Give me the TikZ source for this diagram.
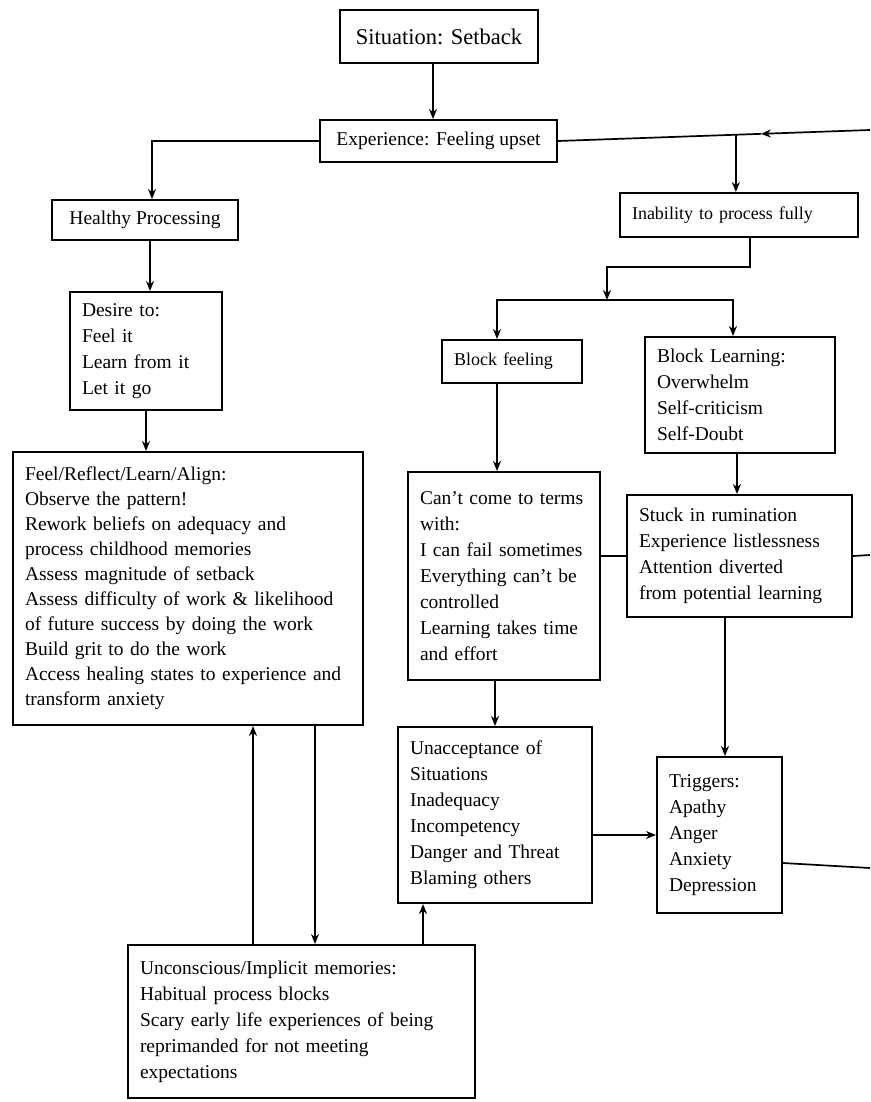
\documentclass[tikz,border=0pt]{standalone}
\usepackage{fontspec}
\setmainfont{Liberation Serif}
\usetikzlibrary{arrows.meta, calc}

\tikzset{
  box/.style={draw=black, line width=2pt, align=left, inner xsep=12pt, inner ysep=5pt,
    font=\fontsize{19.5}{26}\selectfont},
  arr/.style={line width=1.7pt, -{Stealth[length=10pt, width=8pt]}},
  con/.style={line width=1.7pt}
}

\begin{document}
\begin{tikzpicture}[x=1pt, y=-1pt]
\useasboundingbox (0,0) rectangle (870,1102);

\node (sit) [box, align=center, minimum width=198pt, minimum height=53pt, font=\fontsize{22.5}{27}\selectfont] at (439,36.5) {Situation: Setback};
\node (exp) [box, align=center, minimum width=237pt, minimum height=42pt] at (438.5,141) {Experience: Feeling upset};
\node (healthy) [box, align=center, minimum width=186pt, minimum height=40pt] at (145,220) {Healthy Processing};
\node (inab) [box, text width=214pt, minimum height=44pt, font=\fontsize{18}{24}\selectfont] at (739,215) {Inability to process fully};
\node (desire) [box, text width=128pt, minimum height=118pt] at (146,351) {Desire to:\\Feel it\\Learn from it\\Let it go};
\node (blockf) [box, text width=116pt, minimum height=43pt, font=\fontsize{18}{24}\selectfont] at (512,361.5) {Block feeling};
\node (blockl) [box, text width=166pt, minimum height=116pt] at (740,395) {Block Learning:\\Overwhelm\\Self-criticism\\Self-Doubt};
\node (feel) [box, text width=326pt, minimum height=273pt, font=\fontsize{19.5}{25}\selectfont] at (188,588.5) {Feel/Reflect/Learn/Align:\\Observe the pattern!\\Rework beliefs on adequacy and\\process childhood memories\\Assess magnitude of setback\\Assess difficulty of work \& likelihood\\of future success by doing the work\\Build grit to do the work\\Access healing states to experience and\\transform anxiety};
\node (cant) [box, text width=168pt, minimum height=208pt] at (504,576) {Can't come to terms\\with:\\I can fail sometimes\\Everything can't be\\controlled\\Learning takes time\\and effort};
\node (stuck) [box, text width=201pt, minimum height=122pt] at (739.5,556) {Stuck in rumination\\Experience listlessness\\Attention diverted\\from potential learning};
\node (unacc) [box, text width=170pt, minimum height=176pt] at (495,815) {Unacceptance of\\Situations\\Inadequacy\\Incompetency\\Danger and Threat\\Blaming others};
\node (trig) [box, text width=101pt, minimum height=156pt] at (719.5,835) {Triggers:\\Apathy\\Anger\\Anxiety\\Depression};
\node (uncon) [box, text width=323pt, minimum height=153pt] at (301.5,1021.5) {Unconscious/Implicit memories:\\Habitual process blocks\\Scary early life experiences of being\\reprimanded for not meeting\\expectations};

\coordinate (rtop) at (870,130);
\coordinate (rmid) at (870,555);
\coordinate (rlow) at (870,868);
\coordinate (tip) at ($(exp.east)!0.65!(rtop)$);
\coordinate (br) at ($(exp.east)!0.57!(rtop)$);
\coordinate (split) at (607,300);

\draw[arr] ([xshift=-6pt]sit.south) -- ([xshift=-6pt]sit.south |- exp.north);
\draw[arr] (exp.west) -| ([xshift=7pt]healthy.north);
\draw[arr] (rtop) -- (tip);
\draw[con] (tip) -- (exp.east);
\draw[arr] (br) -- (br |- inab.north);
\draw[arr] ([xshift=5pt]healthy.south) -- ([xshift=5pt]healthy.south |- desire.north);
\draw[arr] (desire.south) -- (desire.south |- feel.north);
\draw[arr] ([xshift=11pt]inab.south) -- ++(0,29) -| (split);
\draw[arr] (split) -| ([xshift=-15pt]blockf.north);
\draw[arr] (split) -| ([xshift=-7pt]blockl.north);
\draw[arr] ([xshift=-15pt]blockf.south) -- ([xshift=-15pt]blockf.south |- cant.north);
\draw[arr] ([xshift=-3pt]blockl.south) -- ([xshift=-3pt]blockl.south |- stuck.north);
\draw[con] (stuck.west) -- (stuck.west -| cant.east);
\draw[con] (stuck.east) -- (rmid);
\draw[arr] (cant.south -| unacc.north) -- (unacc.north);
\draw[arr] ([xshift=-14.5pt]stuck.south) -- ([xshift=-14.5pt]stuck.south |- trig.north);
\draw[arr] (unacc.east |- trig.west) -- (trig.west);
\draw[con] ([yshift=-28pt]trig.east) -- (rlow);
\draw[arr] ([xshift=-48.5pt]uncon.north) -- ([xshift=-48.5pt]uncon.north |- feel.south);
\draw[arr] ([xshift=13.5pt]uncon.north |- feel.south) -- ([xshift=13.5pt]uncon.north);
\draw[arr] ([xshift=-72pt]unacc.south |- uncon.north) -- ([xshift=-72pt]unacc.south);
\end{tikzpicture}
\end{document}
